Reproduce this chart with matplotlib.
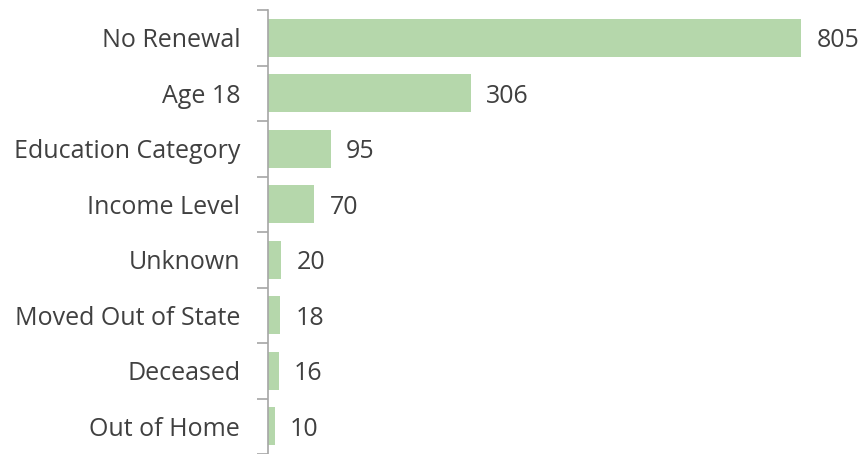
import matplotlib
matplotlib.use("Agg")
import matplotlib.pyplot as plt

categories = ["No Renewal", "Age 18", "Education Category", "Income Level",
              "Unknown", "Moved Out of State", "Deceased", "Out of Home"]
values = [805, 306, 95, 70, 20, 18, 16, 10]

bar_color = "#b5d7ab"
text_color = "#404040"
axis_color = "#a6a6a6"

plt.rcParams['font.family'] = ['Open Sans', 'DejaVu Sans']

fig = plt.figure(figsize=(8.62, 4.54), dpi=100)
ax = fig.add_axes([268/862, 0.0, (801-268)/862, 444/454])

n = len(categories)
ypos = list(range(n))
ax.barh(ypos, values, height=0.68, color=bar_color)
ax.set_ylim(n - 0.5, -0.5)
ax.set_xlim(0, 805)

ax.set_yticks([i - 0.5 for i in range(n + 1)])
ax.set_yticklabels([])
ax.set_yticks(ypos, minor=True)
ax.set_yticklabels(categories, minor=True, fontsize=18, color=text_color)
ax.tick_params(axis='y', which='minor', length=0, pad=20)
ax.tick_params(axis='y', which='major', length=8, width=1.2, color=axis_color)
ax.set_xticks([])

for s in ['top', 'right', 'bottom']:
    ax.spines[s].set_visible(False)
ax.spines['left'].set_color(axis_color)
ax.spines['left'].set_linewidth(1.2)

for y, v in zip(ypos, values):
    ax.annotate(str(v), (v, y), xytext=(11, -2), textcoords='offset points',
                va='center', ha='left', fontsize=18, color=text_color,
                annotation_clip=False)

fig.savefig("out.png", dpi=100)
